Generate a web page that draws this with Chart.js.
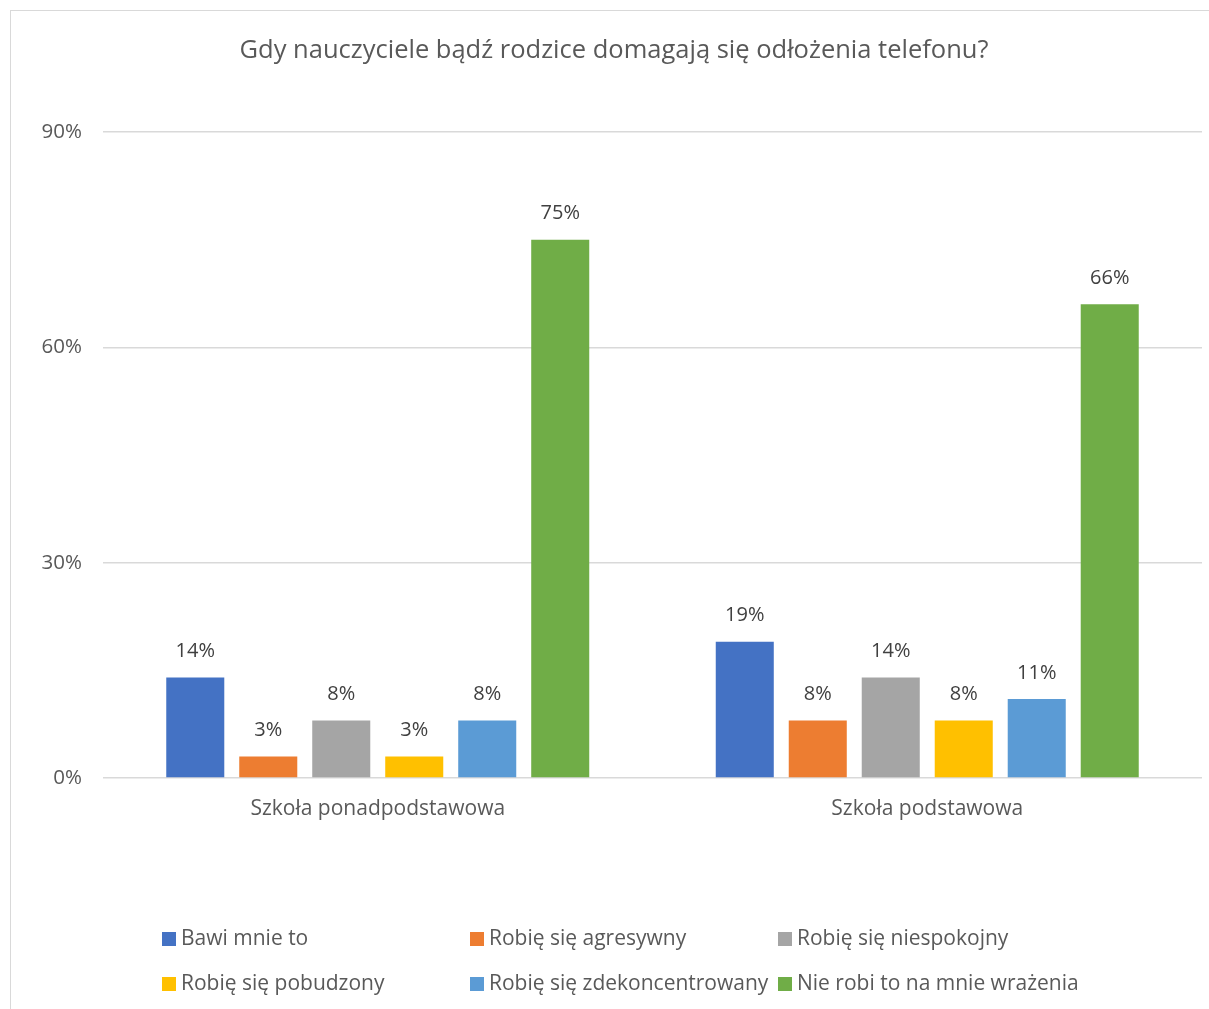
<!DOCTYPE html>
<html lang="pl">
<head>
<meta charset="utf-8">
<script src="https://cdn.jsdelivr.net/npm/chart.js@4/dist/chart.umd.min.js"></script>
<style>
  html, body { margin: 0; padding: 0; background: #fff; }
  #wrap { position: relative; width: 1209px; height: 1009px; overflow: hidden; }
  #frame { position: absolute; left: 10px; top: 10px; width: 1300px; height: 1100px;
           border: 1px solid #d9d9d9; box-sizing: border-box; }
  #chart { position: absolute; left: 0; top: 0; }
  #legend { position: absolute; left: 162px; top: 922px; width: 950px;
            font-family: "Open Sans", sans-serif; font-size: 21px; color: #595959; }
  .item { position: absolute; white-space: nowrap; line-height: 30px; }
  .item span.box { display: inline-block; width: 14px; height: 14px; margin-right: 5px;
                   vertical-align: -1px; }
</style>
</head>
<body>
<div id="wrap">
  <div id="frame"></div>
  <canvas id="chart" width="1209" height="1009"></canvas>
  <div id="legend"></div>
</div>
<script>
  // kategorie i serie
  var categories = ["Szkoła ponadpodstawowa", "Szkoła podstawowa"];
  var seriesNames = [
    "Bawi mnie to",
    "Robię się agresywny",
    "Robię się niespokojny",
    "Robię się pobudzony",
    "Robię się zdekoncentrowany",
    "Nie robi to na mnie wrażenia"
  ];
  var bawi = [14, 19];
  var agresywny = [3, 8];
  var niespokojny = [8, 14];
  var pobudzony = [3, 8];
  var zdekoncentrowany = [8, 11];
  var brakWrazenia = [75, 66];
  var yTicks = [0, 30, 60, 90];

  var seriesValues = [bawi, agresywny, niespokojny, pobudzony, zdekoncentrowany, brakWrazenia];
  var colors = ["#4472C4", "#ED7D31", "#A5A5A5", "#FFC000", "#5B9BD5", "#70AD47"];

  var FONT = "'Open Sans', sans-serif";

  var datasets = seriesNames.map(function (name, i) {
    return {
      label: name,
      data: seriesValues[i],
      backgroundColor: colors[i],
      categoryPercentage: 0.797,
      barPercentage: 0.795
    };
  });

  // etykiety nad słupkami
  var valueLabels = {
    id: "valueLabels",
    afterDatasetsDraw: function (chart) {
      var ctx = chart.ctx;
      ctx.save();
      ctx.font = "20px " + FONT;
      ctx.fillStyle = "#404040";
      ctx.textAlign = "center";
      ctx.textBaseline = "middle";
      chart.data.datasets.forEach(function (ds, i) {
        chart.getDatasetMeta(i).data.forEach(function (bar, j) {
          ctx.fillText(ds.data[j] + "%", bar.x, bar.y - 26);
        });
      });
      ctx.restore();
    }
  };

  new Chart(document.getElementById("chart"), {
    type: "bar",
    data: { labels: categories, datasets: datasets },
    plugins: [valueLabels],
    options: {
      responsive: false,
      animation: false,
      layout: { padding: { left: 26, right: 7, top: 0, bottom: 130 } },
      plugins: {
        legend: { display: false },
        tooltip: { enabled: false },
        title: {
          display: true,
          text: "Gdy nauczyciele bądź rodzice domagają się odłożenia telefonu?",
          color: "#595959",
          font: { family: FONT, size: 25.5, weight: "normal" },
          padding: { top: 35, bottom: 66.5 }
        }
      },
      scales: {
        x: {
          grid: { display: false, drawTicks: false },
          border: { display: false },
          ticks: { color: "#595959", font: { family: FONT, size: 21 }, padding: 18 },
          afterFit: function (s) { s.height = 1009 - 130 - 778; }
        },
        y: {
          min: 0,
          max: 90,
          afterBuildTicks: function (s) {
            s.ticks = yTicks.map(function (v) { return { value: v }; });
          },
          grid: { color: "#d9d9d9", lineWidth: 1.5, drawTicks: false },
          border: { display: false },
          ticks: {
            color: "#595959",
            font: { family: FONT, size: 20.5 },
            padding: 21,
            callback: function (v) { return v + "%"; }
          },
          afterFit: function (s) { s.width = 103 - 26; }
        }
      }
    }
  });

  // legenda w trzech kolumnach
  var legend = document.getElementById("legend");
  seriesNames.forEach(function (name, i) {
    var el = document.createElement("div");
    el.className = "item";
    el.style.left = (i % 3) * 308 + "px";
    el.style.top = Math.floor(i / 3) * 45 + "px";
    el.innerHTML = '<span class="box" style="background:' + colors[i] + '"></span>' + name;
    legend.appendChild(el);
  });
</script>
</body>
</html>
